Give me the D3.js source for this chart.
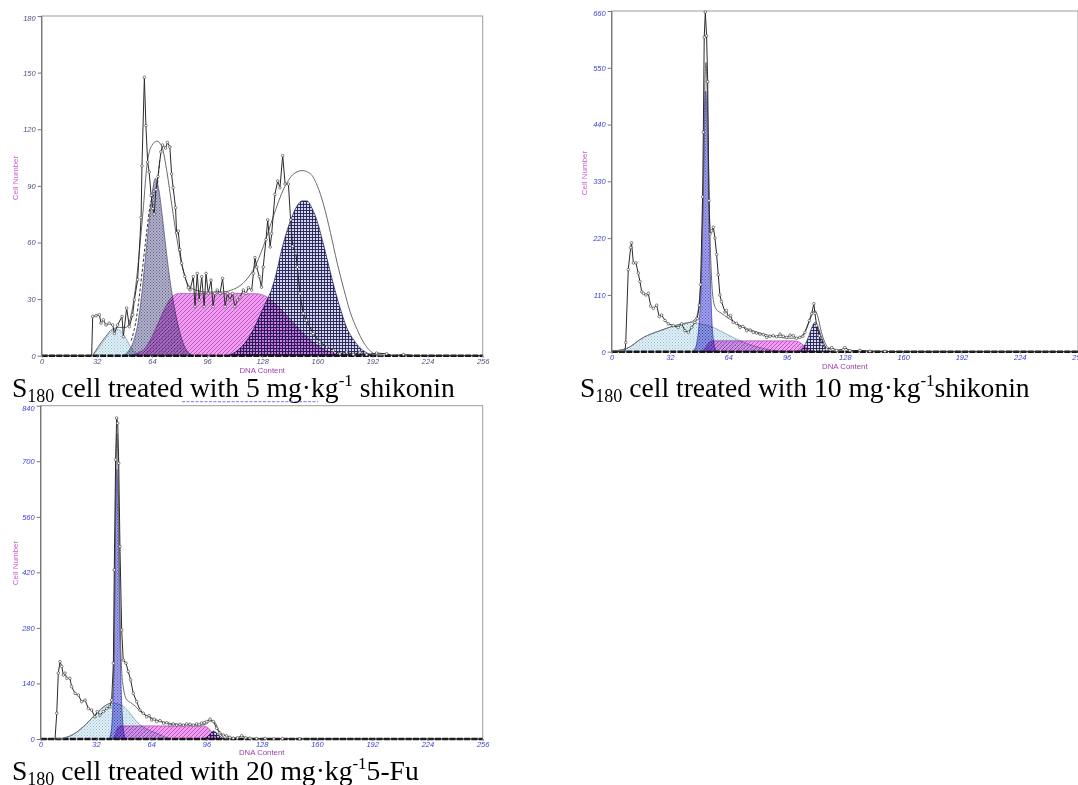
<!DOCTYPE html>
<html><head><meta charset="utf-8">
<script src="https://cdn.jsdelivr.net/npm/d3@7"></script>
<style>
body{margin:0;background:#fff;}
svg{display:block;}
</style></head><body>
<svg id="c" width="1078" height="785"></svg>
<script>
// ---------------- DATA ----------------
const xTicks = [0,32,64,96,128,160,192,224,256];
const p5YTicks = [0,30,60,90,120,150,180];
const p10YTicks = [0,110,220,330,440,550,660];
const pFuYTicks = [0,140,280,420,560,700,840];

// Panel 1: 5 mg/kg shikonin
const p5Data = [[0,0],[6,0],[12,0],[18,0],[24,0],[29,0],[29.6,20.8],[31.5,21.2],[33.5,21.7],[34.4,17.3],[35.8,19],[37.3,16.3],[39.2,17.2],[41.2,16.3],[42.2,11.8],[44.1,16.3],[46.6,20.8],[47.4,10.1],[49.3,25.2],[50.9,15.4],[52.8,21.7],[53.8,29.6],[55.7,40.3],[57.7,73.2],[58.2,100.6],[59.6,147.5],[60.5,122],[61.5,102.6],[62.4,97.3],[63.5,85],[64.5,78],[65.3,75],[66.3,88],[67.5,95],[69.2,108],[70.2,111.6],[71.9,110],[73,113],[74.4,110.6],[75.4,96.3],[76.3,89],[77.7,78.4],[78.3,65.1],[79.3,66],[80.2,56.2],[81.2,49],[83.1,42],[85.1,36],[86.1,34.8],[88,41.9],[89,26],[90.3,43.6],[91.4,29.5],[92.9,41.9],[94.3,26],[95.4,43.6],[96.7,33],[98.3,40],[99.5,26],[100.5,33],[101.9,34.8],[103.5,33],[105,41],[106.5,26],[107.8,33],[109.3,29.5],[110.8,33],[112.1,26],[113.8,29.5],[115.1,31],[117,34.8],[118.6,33],[120,36],[121.9,34.8],[122.9,43.6],[123.8,52],[124.8,47],[126.3,41.9],[127.6,36.3],[128.6,47],[130.2,61.5],[131.2,72],[132.6,57.6],[133.5,64.7],[135.4,85.5],[137,92.6],[138.3,89],[139.9,106],[141.3,91],[143.2,91],[144.5,72],[145.7,58],[147.6,54],[148.4,47],[149.9,33],[151.8,22.3],[153.7,18.8],[157.6,11.7],[161.4,7.3],[165.4,4.6],[169.3,2.8],[173.1,1],[177,1.9],[180.9,0.7],[184.7,1.8],[188.6,0.5],[194.4,1.4],[200.2,1],[204,0],[210,0.6],[216,0],[232,0],[256,0]];
const p5Dashed = [[52,8],[55,20],[58,42],[61,66],[63,80],[65,85],[67,90],[68.5,104]];
const p5Env = [[29.5,0],[33,5],[37,10],[41,14],[45,15],[49,15],[52,22],[55,40],[57,58],[59.1,79.5],[61.1,100.9],[64,111.5],[66.9,113.7],[69.8,110.7],[72.7,97.4],[75.6,79.5],[78.5,61.8],[81.5,47.6],[84.4,38.7],[88.2,35.2],[96,33.7],[103.7,33.7],[111.4,35.2],[117.2,38.7],[123,45.8],[128.8,58.2],[134.6,74.2],[140.5,88.4],[146.4,96.4],[151.2,98.1],[156,96.4],[159.9,90.2],[163.8,79.5],[167.6,65.3],[171.5,49.3],[175.4,35.2],[179.2,22.8],[183.1,13.9],[187,6.8],[190.8,2.4],[194.7,0.4],[198,0]];
const p5Debris = [[29.5,0],[33,4],[37,9],[40,12.5],[43.5,14],[46,13],[49,9],[52,4],[55,1],[57,0]];
const p5G1 = [[47,0],[50,2],[53,7],[56,18],[58,32],[60,50],[62,68],[64,85],[66,94],[68,88],[70,74],[72,58],[74,43],[76,31],[78,21],[80,13],[82,7],[84,3],[86,1],[88,0]];
const p5S = [[52,0],[56,1.5],[60,4],[64,10],[68,18],[72,26],[76,31.5],[80,33],[90,33],[110,33],[125,32.8],[130,31.5],[135,28],[140,23.5],[145,18.5],[150,13.5],[155,9],[160,5.5],[165,2.8],[170,1.2],[175,0]];
const p5G2 = [[108,0],[114,3],[119,8],[124,16],[128,24],[131,30],[133,34],[136,43],[139,55],[142,65],[145,73],[148,79],[151,82],[154,82],[157,78],[160,71],[163,61],[166,50],[169,39],[172,29],[174,23],[177,15],[181,8.5],[185,4],[189,1.4],[194,0]];

// Panel 2: 10 mg/kg shikonin
const p10Data = [[0,0],[4,0],[7.3,0],[7.7,17.7],[9.1,159],[10.4,201.6],[10.9,211],[11.9,172],[13.3,172],[14.6,152],[15.5,136],[16.5,116],[17.4,113],[18.8,110],[20.1,113],[21.4,88.6],[22.9,84],[24.7,90],[26.1,68],[27.4,71],[29.3,60.4],[31.1,54],[33.8,50.6],[36.5,47],[38.4,54],[40.2,40.7],[42.1,37.4],[43.9,47],[45.7,57],[47,64],[48.1,90],[48.8,130],[49.9,300],[50.3,425],[50.8,609],[51.4,658],[52.1,612],[52.7,523],[53.4,293],[54,228],[54.9,234],[55.8,241],[56.7,220],[57.6,188.5],[58.5,149],[59.4,110],[60.3,97],[62.2,77],[63,80],[64,68],[65.2,70],[66.7,57],[68.5,55],[70.4,47],[72,49],[74.1,40.7],[76,42],[77.7,37.4],[79.5,36],[81.4,34],[83.2,33],[85.1,27.6],[86.9,30],[88.7,31],[90.5,29],[92.4,34],[94.2,30],[96,27.6],[97.9,32],[99.7,31],[101.5,26],[103.3,27.6],[105,30],[106.1,37.4],[108.5,60.4],[109.8,74],[111,93],[111.6,74],[112.5,50.6],[114,31],[115.3,14.4],[118,4.6],[120.8,8],[123.5,2.6],[127.1,4.6],[128,8],[130.8,2],[136.3,2.6],[141.8,1],[150,0.5],[160,0],[192,0],[224,0],[256,0]];
const p10Env = [[0,1.3],[8,6],[17.4,27.6],[26.5,40.7],[35.7,51.5],[43,57],[46,64],[47.5,80],[48.5,115],[49.5,190],[50.5,360],[51.2,520],[51.7,560],[52.3,520],[53,390],[54,220],[55,130],[56,96],[57.5,82],[60,75],[64,65],[70,52],[78,40],[86,32],[94,27],[100,26],[104,30],[107,45],[109.5,68],[111.5,80],[113,70],[115,40],[117,18],[119.5,6],[122,1.5],[125,0]];
const p10Debris = [[0,1.3],[8,6],[17.4,27.6],[26.5,40.7],[35.7,51.5],[43,57],[48.5,54],[55.8,47],[63.1,34],[70.4,21],[77.7,11.4],[85.1,4.6],[92.4,1],[99.7,0]];
const p10G1 = [[44,0],[46,8],[47,22],[48,55],[49,120],[50,260],[51,440],[51.6,505],[52.2,470],[53,330],[54,165],[55,60],[56,18],[57,4],[58,0]];
const p10S = [[49.5,0],[51,5],[52.5,13],[54,19],[55.5,21],[70,21],[90,21],[100,21],[102.5,19.5],[104.5,15],[106.5,9],[108.5,4],[110.5,1.2],[112.5,0]];
const p10G2 = [[102,0],[104,4],[106,13],[108,28],[110,48],[111.6,57],[113,50],[115,30],[117,12],[119,3],[121,0]];

// Panel 3: 20 mg/kg 5-Fu
const pFuData = [[0,0],[4,0],[8.3,0],[9.3,65],[10.2,166],[11.2,195],[12.2,183],[13.1,161],[14.1,166],[15.1,153],[16.9,153],[17.9,132],[19.9,115],[21.8,111],[23.7,94],[25.7,98],[27.6,77],[29.5,73],[31.4,56],[32.8,69],[34.3,60],[36.3,69],[38.2,77],[40.1,81],[41.1,98],[42.1,191],[42.6,426],[43.4,704],[44,809],[44.6,796],[45.2,695],[45.9,485],[46.9,275],[47.8,199],[49.4,191],[50.7,170],[52.1,149],[53.6,115],[55.6,94],[57.5,73],[59.4,65],[61.4,56],[62.8,59],[64.3,48],[65.8,50],[67.2,44],[69.1,46],[71.1,40],[73,41],[74.9,35],[76.8,38],[78.8,35],[80.7,37],[82.6,35],[84.5,38],[86.5,37],[88.4,35],[90.3,38],[91.8,36],[93.2,40],[94.7,41],[96.1,44],[98.1,50],[100,44],[101.9,27],[103.8,15],[105.7,10],[107.7,8],[109.6,4],[111.5,2],[114,3],[116.4,8],[118.8,3],[121.2,2],[125,1],[130,1.5],[135,0.5],[140,1],[150,0.5],[160,0],[192,0],[224,0],[256,0]];
const pFuEnv = [[9,0],[14,3],[19,12],[24.7,31],[32.4,65],[38,86],[41,93],[42,125],[42.8,300],[43.5,620],[44.1,770],[44.8,680],[45.5,450],[46.3,240],[47,165],[47.8,132],[49.7,100],[52,92],[55,82],[58,68],[62,58],[66,50],[70,44],[76,39],[84,36],[92,35],[96,38],[98.5,45],[100.5,44],[102.5,28],[104.5,10],[106.5,2],[108.5,0]];
const pFuDebris = [[9,0],[14,3],[19,12],[24.7,31],[28,45],[32.4,65],[36,80],[40,89],[42,90],[45,88],[48,82],[51.7,65],[54,52],[57.5,36],[61,26],[65,18],[69,11],[72,5],[75,0]];
const pFuG1 = [[39.5,0],[40.5,12],[41.5,55],[42.5,210],[43.4,560],[44.1,680],[44.8,590],[45.5,380],[46.4,160],[47.3,55],[48.3,12],[49.3,0]];
const pFuS = [[42,0],[43,9],[44,22],[45,30],[46.5,33],[60,33],[80,33],[94,33],[96,31],[98,24],[100,14],[102,5],[104,0]];
const pFuG2 = [[94,0],[96,4],[98,12],[100,20],[102,15],[104,6],[106,1],[108,0]];

const captionDoses = ["5 mg·kg", "10 mg·kg", "20 mg·kg"];
const captionTails = [" shikonin", "shikonin", "5-Fu"];
const yTitle = "Cell Number";
const xTitle = "DNA Content";

// ---------------- DRAWING ----------------
const svg = d3.select("#c");
const defs = svg.append("defs");

function dotPat(id, bg, dot, s) {
  const p = defs.append("pattern").attr("id", id).attr("patternUnits", "userSpaceOnUse").attr("width", s).attr("height", s);
  p.append("rect").attr("width", s).attr("height", s).attr("fill", bg);
  p.append("rect").attr("x", 0).attr("y", 0).attr("width", 1).attr("height", 1).attr("fill", dot);
  p.append("rect").attr("x", s/2).attr("y", s/2).attr("width", 1).attr("height", 1).attr("fill", dot);
}
dotPat("dotsCyan", "#e2f1f8", "#97bfd2", 3);
dotPat("dotsGrey", "#b2b2cb", "#62628a", 3);
dotPat("dotsBlue", "#a0a0ea", "#5a5acc", 3);
(function(){
  const p = defs.append("pattern").attr("id", "hatchPink").attr("patternUnits", "userSpaceOnUse").attr("width", 4).attr("height", 4);
  p.append("rect").attr("width", 4).attr("height", 4).attr("fill", "#f09ef0");
  p.append("path").attr("d", "M-1,1 l2,-2 M0,4 l4,-4 M3,5 l2,-2").attr("stroke", "#c04cc6").attr("stroke-width", 0.9);
  const q = defs.append("pattern").attr("id", "crossNavy").attr("patternUnits", "userSpaceOnUse").attr("width", 3).attr("height", 3);
  q.append("rect").attr("width", 3).attr("height", 3).attr("fill", "#d6d6ea");
  q.append("path").attr("d", "M0,0.5 H3 M0.5,0 V3").attr("stroke", "#1e1e56").attr("stroke-width", 0.9);
})();

const panels = [
  {x0:41.7, x1:482.7, yTop:16, yBot:355.7, yMax:180, yTicks:p5YTicks, tickColor:"#50507e", g1Fill:"dotsGrey", g1Stroke:"#4a4a72",
   data:p5Data, env:p5Env, debris:p5Debris, g1:p5G1, s:p5S, g2:p5G2, dashed:p5Dashed, yTitleX:16, yTitleY:178, xTitleY:370.5,
   capX:12, capY:397, cap:0},
  {x0:611.7, x1:1078, yTop:11, yBot:351.7, yMax:660, yTicks:p10YTicks, tickColor:"#3c3cd6", g1Fill:"dotsBlue", g1Stroke:"#3434a8",
   data:p10Data, env:p10Env, debris:p10Debris, g1:p10G1, s:p10S, g2:p10G2, dashed:null, yTitleX:585, yTitleY:173, xTitleY:366.5,
   capX:580, capY:397, cap:1},
  {x0:40.7, x1:482.7, yTop:405.7, yBot:739, yMax:840, yTicks:pFuYTicks, tickColor:"#3c3cd6", g1Fill:"dotsBlue", g1Stroke:"#3434a8",
   data:pFuData, env:pFuEnv, debris:pFuDebris, g1:pFuG1, s:pFuS, g2:pFuG2, dashed:null, yTitleX:16, yTitleY:563, xTitleY:753,
   capX:12, capY:780, cap:2}
];

panels.forEach((P, i) => {
  const x = d3.scaleLinear().domain([0, 256]).range([P.x0, P.x1]);
  const y = d3.scaleLinear().domain([0, P.yMax]).range([P.yBot, P.yTop]);
  const g = svg.append("g");
  const clipId = "clip" + i;
  defs.append("clipPath").attr("id", clipId).append("rect")
    .attr("x", P.x0).attr("y", P.yTop - 2).attr("width", P.x1 - P.x0).attr("height", P.yBot - P.yTop + 4);

  // frame
  g.append("rect").attr("x", P.x0).attr("y", P.yTop).attr("width", P.x1 - P.x0).attr("height", P.yBot - P.yTop)
    .attr("fill", "none").attr("stroke", "#9c9c9c").attr("stroke-width", 1);

  // components
  const area = d3.area().x(d => x(d[0])).y0(y(0)).y1(d => y(d[1])).curve(d3.curveMonotoneX);
  const comp = g.append("g").attr("clip-path", `url(#${clipId})`).style("isolation", "isolate");
  const comps = [
    {d:P.debris, fill:"url(#dotsCyan)", stroke:"#6f93a6"},
    {d:P.s, fill:"url(#hatchPink)", stroke:"#a94aae"},
    {d:P.g1, fill:`url(#${P.g1Fill})`, stroke:P.g1Stroke},
    {d:P.g2, fill:"url(#crossNavy)", stroke:"#1e1e5e"}
  ];
  comps.forEach(c => {
    comp.append("path").datum(c.d).attr("d", area)
      .attr("fill", c.fill).attr("stroke", c.stroke).attr("stroke-width", 0.7)
      .style("mix-blend-mode", "multiply");
  });

  // baseline (thick dashed)
  g.append("path").datum([[0,0],[256,0]])
    .attr("d", d3.line().x(d => x(d[0])).y(d => y(d[1])))
    .attr("stroke", "#151515").attr("stroke-width", 2.4).attr("stroke-dasharray", "6,1.3").attr("fill", "none")
    .attr("clip-path", `url(#${clipId})`);

  // envelope
  g.append("path").datum(P.env)
    .attr("d", d3.line().x(d => x(d[0])).y(d => y(d[1])).curve(d3.curveMonotoneX))
    .attr("fill", "none").attr("stroke", "#6a6a6a").attr("stroke-width", 1)
    .attr("clip-path", `url(#${clipId})`);

  if (P.dashed) {
    g.append("path").datum(P.dashed)
      .attr("d", d3.line().x(d => x(d[0])).y(d => y(d[1])).curve(d3.curveMonotoneX))
      .attr("fill", "none").attr("stroke", "#333").attr("stroke-width", 1).attr("stroke-dasharray", "3,2");
  }

  // data line
  g.append("path").datum(P.data)
    .attr("d", d3.line().x(d => x(d[0])).y(d => y(d[1])))
    .attr("fill", "none").attr("stroke", "#2a2a2a").attr("stroke-width", 1)
    .attr("clip-path", `url(#${clipId})`);
  g.append("g").attr("clip-path", `url(#${clipId})`).selectAll("circle").data(P.data.filter(d => d[1] > 0)).join("circle")
    .attr("cx", d => x(d[0])).attr("cy", d => y(d[1])).attr("r", 1.3)
    .attr("fill", "#fff").attr("stroke", "#333").attr("stroke-width", 0.6);

  // left axis line
  g.append("line").attr("x1", P.x0).attr("x2", P.x0).attr("y1", P.yTop).attr("y2", P.yBot)
    .attr("stroke", "#777").attr("stroke-width", 1.3);

  // axes
  const ay = g.append("g").attr("transform", `translate(${P.x0},0)`)
    .call(d3.axisLeft(y).tickValues(P.yTicks).tickSize(4).tickPadding(2));
  ay.select(".domain").remove();
  ay.selectAll("line").attr("stroke", "#777");
  ay.selectAll("text").attr("fill", P.tickColor).style("font", "italic 7.5px 'Liberation Sans', Arial, sans-serif");
  ay.selectAll(".tick").filter(d => d === P.yMax).select("text").attr("dy", "0.62em");

  const ax = g.append("g").attr("transform", `translate(0,${P.yBot})`)
    .call(d3.axisBottom(x).tickValues(xTicks).tickSize(2).tickPadding(1));
  ax.select(".domain").remove();
  ax.selectAll("line").attr("stroke", "#777");
  ax.selectAll("text").attr("fill", P.tickColor).style("font", "italic 7.5px 'Liberation Sans', Arial, sans-serif");

  // axis titles
  g.append("text").attr("transform", `translate(${P.yTitleX},${P.yTitleY}) rotate(-90)`)
    .attr("text-anchor", "middle").attr("dominant-baseline", "middle")
    .attr("fill", "#cc5ccc").style("font", "8px 'Liberation Sans', Arial, sans-serif").text(yTitle);
  g.append("text").attr("x", (x(0) + x(256)) / 2).attr("y", P.xTitleY)
    .attr("text-anchor", "middle").attr("dominant-baseline", "middle")
    .attr("fill", "#a23ca6").style("font", "7.8px 'Liberation Sans', Arial, sans-serif").text(xTitle);

  // caption
  const t = svg.append("text").attr("x", P.capX).attr("y", P.capY)
    .style("font-family", "'Liberation Serif', 'Times New Roman', serif").attr("fill", "#000");
  t.append("tspan").style("font-size", "27.6px").text("S");
  t.append("tspan").style("font-size", "18px").attr("dy", 5).text("180");
  t.append("tspan").style("font-size", "27.6px").attr("dy", -5).text(" cell treated with " + captionDoses[P.cap]);
  t.append("tspan").style("font-size", "17px").attr("dy", -11).text("-1");
  t.append("tspan").style("font-size", "27.6px").attr("dy", 11).text(captionTails[P.cap]);
});

// remnant of a hidden blue title line above panel 3
svg.append("line").attr("x1", 182).attr("x2", 318).attr("y1", 401.7).attr("y2", 401.7)
  .attr("stroke", "#7878ee").attr("stroke-width", 1).attr("stroke-dasharray", "3,1.5");
</script></body></html>
